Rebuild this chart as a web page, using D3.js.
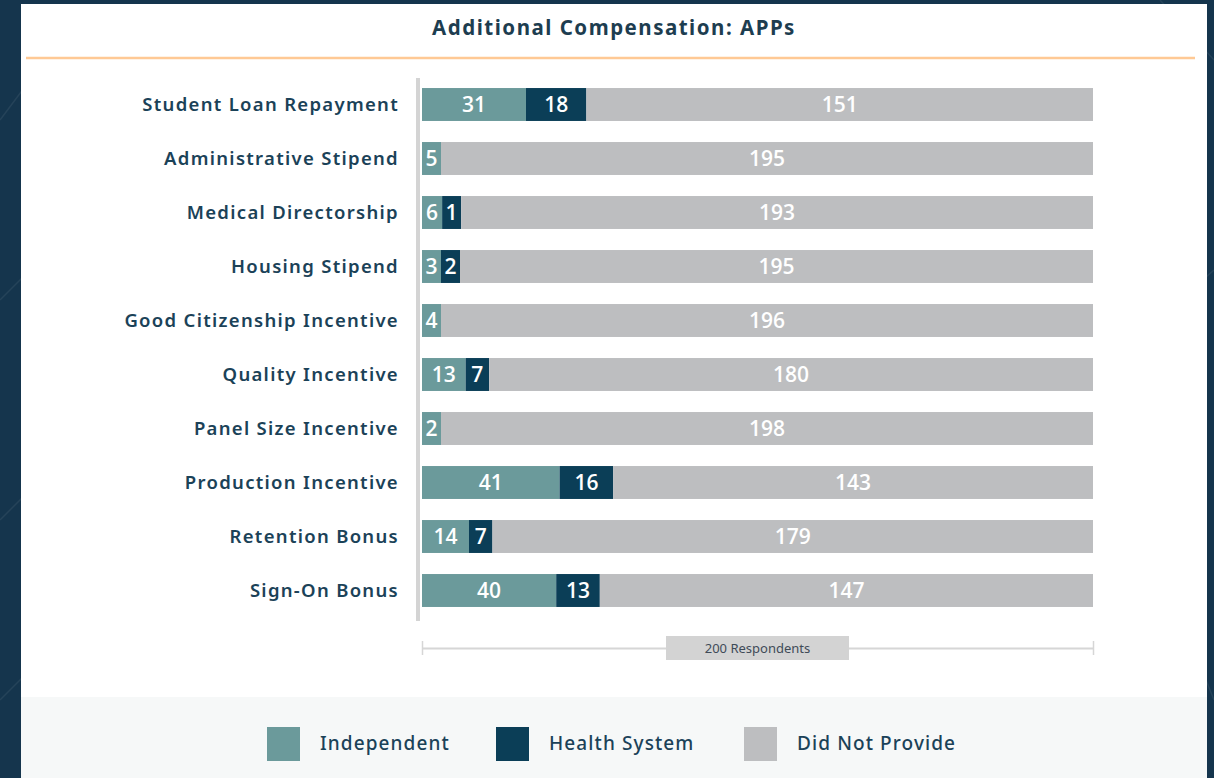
<!DOCTYPE html>
<html>
<head>
<meta charset="utf-8">
<script src="https://cdn.jsdelivr.net/npm/d3@7"></script>
<style>
  html, body { margin: 0; padding: 0; background: #15354d; }
  svg { display: block; }
</style>
</head>
<body>
<svg id="chart"></svg>
<script>
// data
const categories = ["Student Loan Repayment", "Administrative Stipend", "Medical Directorship",
  "Housing Stipend", "Good Citizenship Incentive", "Quality Incentive", "Panel Size Incentive",
  "Production Incentive", "Retention Bonus", "Sign-On Bonus"];
const independent = [31, 5, 6, 3, 4, 13, 2, 41, 14, 40];
const healthSystem = [18, 0, 1, 2, 0, 7, 0, 16, 7, 13];
const didNotProvide = [151, 195, 193, 195, 196, 180, 198, 143, 179, 147];
const seriesNames = ["Independent", "Health System", "Did Not Provide"];
const totalRespondents = 200;
const titleText = "Additional Compensation: APPs";

const W = 1214, H = 778;
const COLORS = ["#6b9a9b", "#0b3e57", "#bdbec0"];
const TEXT = "#1b4258";
const MIN_SEG = 19; // small segments get a minimum width so the number fits

const svg = d3.select("#chart").attr("width", W).attr("height", H);

// background pattern
const bg = svg.append("g");
bg.append("rect").attr("width", W).attr("height", H).attr("fill", "#15354d");
[[0, 120, 60, 40], [0, 300, 40, 260], [0, 520, 60, 460], [0, 700, 50, 650],
 [1160, 0, 1214, 60], [1180, 300, 1214, 270], [1190, 640, 1214, 700]].forEach(l => {
  bg.append("line").attr("x1", l[0]).attr("y1", l[1]).attr("x2", l[2]).attr("y2", l[3])
    .attr("stroke", "rgba(255,255,255,0.07)").attr("stroke-width", 1.5);
});

// card
svg.append("rect").attr("x", 21).attr("y", 4).attr("width", 1186).attr("height", H - 4).attr("fill", "#ffffff");
svg.append("rect").attr("x", 21).attr("y", 697).attr("width", 1186).attr("height", H - 697).attr("fill", "#f6f8f8");

// title
svg.append("text").attr("x", 614).attr("y", 35).attr("text-anchor", "middle")
  .attr("font-family", "'Noto Sans', sans-serif").attr("font-weight", 700).attr("font-size", "20.5px")
  .attr("letter-spacing", "1.5px")
  .attr("fill", "#1d3d50").text(titleText);
svg.append("line").attr("x1", 26).attr("x2", 1195).attr("y1", 58).attr("y2", 58)
  .attr("stroke", "#ffc995").attr("stroke-width", 2.5);

// scales
const x = d3.scaleLinear().domain([0, totalRespondents]).range([422, 1093]);
const y = d3.scaleBand().domain(categories).range([77.5, 617.5]).paddingInner(0.39).paddingOuter(0.195);

// segments per row: scaled widths, tiny ones widened, last one fills to the end
const segs = [];
categories.forEach((c, i) => {
  const vals = [independent[i], healthSystem[i], didNotProvide[i]];
  let pos = x(0);
  vals.forEach((v, k) => {
    if (v <= 0) return;
    let w = x(v) - x(0);
    if (k < 2) w = Math.max(w, MIN_SEG);
    else w = x(totalRespondents) - pos;
    segs.push({ cat: c, key: k, value: v, x0: pos, w: w });
    pos += w;
  });
});

// left axis bar
svg.append("rect").attr("x", 416).attr("y", 78).attr("width", 4).attr("height", 543).attr("fill", "#d4d4d4");

const bars = svg.append("g");
bars.selectAll("rect").data(segs).join("rect")
  .attr("x", d => d.x0)
  .attr("y", d => y(d.cat))
  .attr("width", d => d.w)
  .attr("height", y.bandwidth())
  .attr("fill", d => COLORS[d.key]);

// value labels
bars.selectAll("text").data(segs).join("text")
  .attr("x", d => d.x0 + d.w / 2)
  .attr("y", d => y(d.cat) + y.bandwidth() / 2 + 7)
  .attr("text-anchor", "middle")
  .attr("font-family", "'Open Sans', sans-serif").attr("font-weight", 600).attr("font-size", "21px")
  .attr("fill", "#ffffff")
  .text(d => d.value);

// category labels
svg.append("g").selectAll("text").data(categories).join("text")
  .attr("x", 399).attr("y", d => y(d) + y.bandwidth() / 2 + 6)
  .attr("text-anchor", "end")
  .attr("font-family", "'Noto Sans', sans-serif").attr("font-weight", 600).attr("font-size", "18.5px")
  .attr("letter-spacing", "1.3px")
  .attr("fill", TEXT).text(d => d);

// respondents axis
const axisG = svg.append("g").attr("transform", "translate(0,648)")
  .call(d3.axisBottom(x).tickValues([0, totalRespondents]).tickSize(7).tickSizeOuter(0).tickFormat(""));
axisG.select(".domain").attr("stroke", "#d6d6d6").attr("stroke-width", 2);
axisG.selectAll(".tick line").attr("y1", -7).attr("y2", 7).attr("stroke", "#d6d6d6").attr("stroke-width", 1.5);

svg.append("rect").attr("x", 666).attr("y", 636).attr("width", 183).attr("height", 24).attr("fill", "#d3d3d3");
svg.append("text").attr("x", 757.5).attr("y", 653).attr("text-anchor", "middle")
  .attr("font-family", "'Noto Sans', sans-serif").attr("font-size", "13px").attr("fill", "#3f4b58")
  .text(totalRespondents + " Respondents");

// legend
const legendX = [267, 496, 744];
const legend = svg.append("g").selectAll("g").data(seriesNames).join("g")
  .attr("transform", (d, i) => `translate(${legendX[i]},727)`);
legend.append("rect").attr("width", 33).attr("height", 34).attr("fill", (d, i) => COLORS[i]);
legend.append("text").attr("x", 53).attr("y", 23)
  .attr("font-family", "'Noto Sans', sans-serif").attr("font-weight", 500).attr("font-size", "19px")
  .attr("letter-spacing", "1.1px")
  .attr("fill", TEXT).text(d => d);
</script>
</body>
</html>
